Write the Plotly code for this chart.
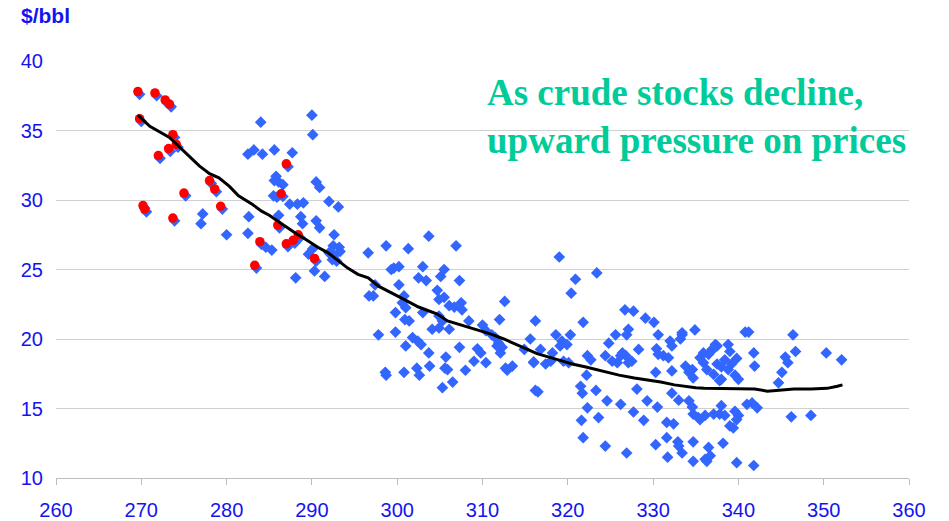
import plotly.graph_objects as go

# Blue diamonds: all observations (stocks, price)
blue_x = [
    290.0, 290.1, 284.0, 282.5, 283.2, 284.2, 285.6, 287.7,
    285.8, 286.1, 285.6, 286.6, 285.5, 285.9, 290.5, 290.9,
    292.0, 293.1, 287.4, 288.3, 289.0, 286.1, 288.7, 288.9,
    282.6, 290.5, 290.9, 292.6, 277.2, 277.0, 280.0, 282.5,
    284.6, 285.3, 289.6, 290.1, 290.3, 291.5, 288.1,
    292.5, 293.2, 292.0, 292.6, 293.3, 292.4, 292.9,
    296.6, 296.7,
    298.7, 301.3, 303.7, 306.9, 299.6, 300.2, 299.3, 303.0,
    302.5, 303.4, 305.5, 305.1, 307.3, 297.4, 300.2, 297.2,
    304.7, 304.9, 305.5, 300.8, 300.6, 301.0, 299.8, 300.9,
    301.4, 303.0, 306.1, 306.7, 307.5, 307.6, 304.9, 305.3,
    304.1, 304.9, 306.1, 308.4, 310.0, 312.0, 312.6, 316.2,
    297.8, 299.8, 301.8, 302.4, 302.8, 301.0, 303.7, 307.3,
    305.7, 303.8, 302.3, 302.6, 300.8, 298.6, 298.7, 305.6,
    305.9, 308.0, 309.4, 309.8, 309.0, 310.4,
    310.4, 311.1, 311.5, 311.9, 312.3, 312.1, 311.7,
    312.7, 313.5, 314.9, 315.6, 316.0, 316.2, 305.3, 306.5,
    312.9,
    319.0, 323.4, 320.9, 320.4, 326.7, 327.7, 329.1, 330.1,
    321.8, 327.1, 326.9, 325.6, 330.6, 333.4, 333.2, 334.9,
    318.6, 319.3, 320.3, 319.9, 319.1, 324.8, 332.0, 332.2,
    328.3, 326.4, 326.8, 326.2, 327.5, 327.1, 330.4, 330.6,
    331.2, 331.8, 324.4, 325.2, 325.8, 316.8, 316.0, 317.4,
    318.2, 318.0, 319.5, 320.1, 322.3, 322.7,
    335.5, 335.9, 336.5, 337.1, 337.5, 335.9, 336.3, 337.1, 337.5,
    333.8, 334.6, 334.2, 334.7, 332.2, 330.3, 322.2, 316.5,
    321.5, 321.7, 323.3, 328.1, 324.6, 322.3, 326.2, 329.3,
    327.7, 328.9, 330.5, 332.2, 333.0, 334.2, 334.6, 334.7,
    335.3, 336.1, 337.1, 321.6, 323.6, 331.6, 332.4, 321.8,
    324.4, 326.9, 330.3, 331.6, 331.7, 332.9, 333.4, 334.7,
    334.7, 336.5, 336.7, 336.1,
    333.4, 340.8, 341.2, 337.3, 336.9, 341.8, 341.9,
    338.0, 338.4, 338.8, 339.2, 339.6, 340.0, 339.0, 339.8,
    338.0, 338.8, 337.8, 337.8, 338.4, 335.5, 338.0, 339.6, 340.0,
    339.8, 339.4, 341.0, 341.6, 342.2, 339.0, 338.2, 333.0, 336.3,
    339.8, 341.8, 346.4, 345.5, 345.8, 345.1, 344.7, 346.7, 350.3, 352.1,
    346.2, 348.5,
    269.8, 271.8, 273.0, 273.5, 270.0, 273.9, 274.3, 273.4, 272.2,
    287.2, 278.2, 278.8, 286.6, 275.2, 279.5, 270.4, 270.6, 273.9,
    286.2, 284.1, 287.2, 288.0, 288.6, 290.5, 283.5,
]
blue_y = [
    36.1, 34.7, 35.6, 33.3, 33.6, 33.3, 33.6, 33.4,
    31.7, 31.3, 31.4, 31.1, 30.3, 30.2, 31.3, 30.9,
    29.9, 29.5, 29.7, 29.7, 29.8, 28.9, 28.8, 28.3,
    28.8, 28.5, 28.0, 27.5, 29.0, 28.3, 27.5, 27.6,
    26.6, 26.4, 26.1, 26.5, 24.9, 24.5, 24.4,
    26.7, 26.6, 26.2, 26.0, 26.3, 25.7, 25.6,
    26.2, 23.1,
    26.7, 26.5, 27.4, 26.7, 25.1, 25.2, 25.0, 25.2,
    24.4, 24.2, 25.0, 24.5, 24.2, 23.9, 23.9, 23.1,
    23.5, 22.85, 23.0, 23.1, 22.6, 22.25, 21.9, 21.4,
    21.3, 21.9, 22.4, 22.3, 22.6, 22.1, 21.65, 21.3,
    20.7, 20.8, 20.7, 21.3, 21.0, 21.4, 22.7, 21.3,
    20.3, 20.5, 20.1, 19.85, 19.6, 19.5, 19.0, 19.4,
    18.7, 18.05, 17.9, 17.4, 17.6, 17.6, 17.4, 17.9,
    17.8, 17.75, 19.3, 19.0, 18.4, 18.3,
    20.6, 20.3, 20.1, 19.7, 19.4, 19.0, 19.5,
    17.9, 18.05, 19.25, 20.0, 18.3, 16.3, 16.5, 16.9,
    17.75,
    25.9, 24.75, 24.3, 23.3, 22.1, 22.0, 21.5, 21.2,
    21.2, 20.7, 20.3, 20.3, 20.3, 20.45, 20.0, 20.65,
    20.3, 19.85, 20.3, 19.6, 19.5, 19.7, 19.85, 19.5,
    19.25, 19.0, 18.8, 18.8, 18.4, 18.3, 19.3, 18.9,
    18.8, 18.65, 18.8, 18.4, 18.3, 19.25, 18.35, 18.2,
    19.0, 18.4, 18.4, 18.3, 18.8, 18.5,
    18.65, 19.0, 18.9, 19.3, 19.5, 18.3, 17.8, 17.45, 18.2,
    18.05, 17.8, 17.6, 17.2, 17.7, 17.6, 17.4, 16.2,
    16.6, 16.1, 16.3, 16.4, 15.55, 15.05, 15.3, 15.55,
    14.75, 14.15, 15.1, 16.1, 15.6, 15.55, 15.1, 14.6,
    14.35, 14.5, 14.6, 14.15, 14.35, 14.0, 13.9, 12.9,
    12.3, 11.8, 12.4, 12.9, 11.5, 12.6, 11.8, 12.6,
    11.2, 12.2, 11.6, 11.35,
    20.3, 20.5, 20.5, 19.6, 19.25, 19.0, 18.05,
    18.0, 18.5, 17.8, 18.2, 17.4, 17.1, 19.1, 18.6,
    17.1, 19.6, 17.0, 14.6, 14.5, 14.2, 15.2, 14.8, 14.5,
    14.2, 13.6, 15.3, 15.4, 15.05, 13.75, 12.5, 12.3, 11.2,
    11.1, 10.9, 20.3, 18.7, 18.3, 17.6, 16.85, 19.1, 19.0, 18.5,
    14.4, 14.5,
    37.6, 37.5, 37.0, 36.7, 35.65, 34.5, 33.8, 33.5, 33.0,
    32.4, 31.2, 30.6, 30.25, 30.3, 29.35, 29.4, 29.15, 28.5,
    28.0, 26.8, 26.65, 26.9, 27.3, 25.6, 25.1,
]

# Red circles: highlighted recent observations
red_x = [269.6, 271.6, 272.8, 273.3, 269.8, 273.7, 274.1, 273.2, 272.0, 287.0,
         278.0, 278.6, 286.4, 275.0, 279.3, 270.2, 270.4, 273.7, 286.0, 283.9,
         287.0, 287.8, 288.4, 290.3, 283.3]
red_y = [37.8, 37.7, 37.2, 36.9, 35.85, 34.7, 34.0, 33.7, 33.2, 32.6,
         31.4, 30.8, 30.45, 30.5, 29.55, 29.6, 29.35, 28.7, 28.2, 27.0,
         26.85, 27.1, 27.5, 25.8, 25.3]

# Black trend line
trend_x = [269.6, 271.0, 273.3, 275.0, 276.8, 278.0, 279.1, 280.3, 281.4, 283.0,
           284.1, 285.0, 286.9, 288.0, 289.2, 290.7, 291.9, 293.0, 294.2, 295.4,
           296.6, 297.8, 299.3, 300.8, 302.5, 304.7, 305.9, 307.5, 309.7, 311.0,
           312.5, 314.3, 316.4, 318.9, 320.5, 322.0, 324.7, 326.0, 327.8, 329.5,
           330.9, 332.5, 333.6, 335.0, 336.0, 337.6, 338.8, 340.5, 341.9, 343.4,
           345.0, 346.5, 348.5, 350.4, 351.6, 352.2]
trend_y = [36.1, 35.3, 34.5, 33.5, 32.45, 31.9, 31.6, 31.0, 30.3, 29.7,
           29.2, 28.9, 28.1, 27.65, 27.2, 26.6, 26.2, 25.7, 25.1, 24.65,
           24.4, 23.8, 23.3, 22.85, 22.3, 21.8, 21.3, 21.0, 20.6, 20.35,
           20.0, 19.5, 18.95, 18.5, 18.2, 18.0, 17.6, 17.4, 17.2, 17.05,
           16.9, 16.7, 16.6, 16.5, 16.45, 16.45, 16.4, 16.4, 16.4, 16.25,
           16.35, 16.4, 16.4, 16.45, 16.6, 16.7]

x_ticks = [260, 270, 280, 290, 300, 310, 320, 330, 340, 350, 360]
y_ticks = [10, 15, 20, 25, 30, 35, 40]

label_blue = "#1414F0"
sans = "Liberation Sans, Arial, sans-serif"

fig = go.Figure()
fig.add_trace(go.Scatter(
    x=blue_x, y=blue_y, mode="markers",
    marker=dict(symbol="diamond", size=9, color="#3366FF", line=dict(width=0)),
    showlegend=False, hoverinfo="skip"))
fig.add_trace(go.Scatter(
    x=red_x, y=red_y, mode="markers",
    marker=dict(symbol="circle", size=9.5, color="#FF0000", line=dict(width=0)),
    showlegend=False, hoverinfo="skip"))
fig.add_trace(go.Scatter(
    x=trend_x, y=trend_y, mode="lines",
    line=dict(color="black", width=3),
    showlegend=False, hoverinfo="skip"))

fig.update_layout(
    width=949, height=521,
    margin=dict(l=56, r=40, t=61, b=43),
    paper_bgcolor="white", plot_bgcolor="white",
    font=dict(family=sans, size=20, color=label_blue),
    xaxis=dict(range=[260, 360], tickvals=x_ticks, ticks="outside", ticklen=6,
               tickcolor="#BDBDBD", showline=True, linecolor="#BDBDBD", linewidth=1,
               showgrid=False, zeroline=False, ticklabelstandoff=8, automargin=False,
               tickfont=dict(family=sans, size=20, color=label_blue)),
    yaxis=dict(range=[10, 40], tickvals=y_ticks, showgrid=True, gridcolor="#D0D0D0",
               gridwidth=1, zeroline=False, showline=False, ticks="",
               ticklabelstandoff=12, automargin=False,
               tickfont=dict(family=sans, size=20, color=label_blue)),
    annotations=[
        dict(text="<b>$/bbl</b>", xref="paper", yref="paper", x=-0.043, y=1.11,
             xanchor="left", yanchor="middle", showarrow=False,
             font=dict(family=sans, size=21, color=label_blue)),
        dict(text="<b>As crude stocks decline,<br>upward pressure on prices</b>",
             xref="paper", yref="paper", x=0.503, y=0.868,
             xanchor="left", yanchor="middle", align="left", showarrow=False,
             font=dict(family="Liberation Serif, Times New Roman, serif", size=37,
                       color="#00CC99")),
    ],
)

fig.write_html(
    "out.html",
    config={"displayModeBar": False},
    post_script="document.body.style.margin='0';document.body.style.overflow='hidden';",
)
